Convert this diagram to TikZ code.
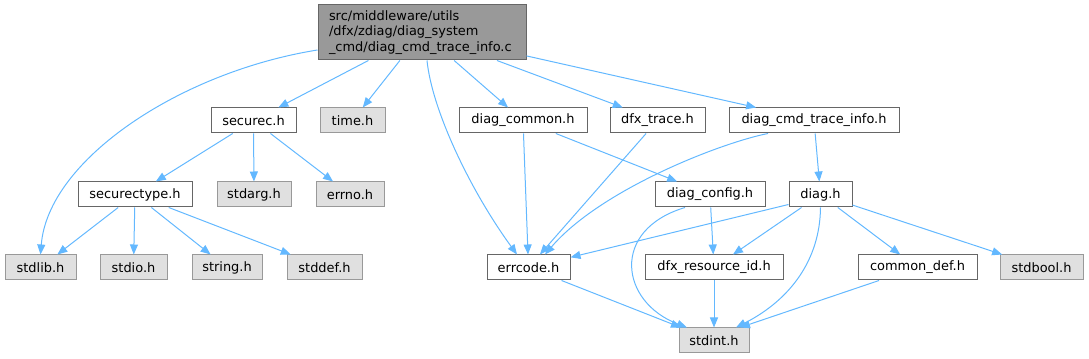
\documentclass[tikz,border=0pt]{standalone}
\usepackage{fontspec}
\setmainfont{DejaVu Sans}
\usetikzlibrary{arrows.meta,calc}
\definecolor{edgeblue}{HTML}{63B8FF}
\definecolor{boxborder}{HTML}{666666}
\definecolor{sysfill}{HTML}{E0E0E0}
\definecolor{sysborder}{HTML}{999999}
\definecolor{rootfill}{HTML}{999999}
\begin{document}
\begin{tikzpicture}[x=0.75pt,y=-0.75pt,
  every node/.style={font=\fontsize{9.7}{11.8}\selectfont, inner sep=0pt, minimum height=18.75pt, line width=0.75pt},
  filebox/.style={draw=boxborder, fill=white, minimum width=#1*0.75pt},
  sysbox/.style={draw=sysborder, fill=sysfill, minimum width=#1*0.75pt},
  dep/.style={draw=edgeblue, line width=0.75pt, -{Triangle[length=7.5pt,width=6pt]}},
]
\useasboundingbox (0,0) rectangle (1089,359);

% root
\node[draw=boxborder, fill=rootfill, minimum width=156pt, minimum height=41.25pt,
      text width=139.5pt, align=left] (root) at (422,32.5)
  {src/middleware/utils\\/dfx/zdiag/diag\_system\\\_cmd/diag\_cmd\_trace\_info.c};

% row 2
\node[filebox=85]  (securec)    at (253.5,120.5) {securec.h};
\node[sysbox=65]   (timeh)      at (352.5,120.5) {time.h};
\node[filebox=128] (diagcommon) at (523,120.5)   {diag\_common.h};
\node[filebox=95]  (dfxtrace)   at (657.5,120.5) {dfx\_trace.h};
\node[filebox=170] (cmdinfo)    at (814,120.5)   {diag\_cmd\_trace\_info.h};

% row 3
\node[filebox=114] (securectype) at (135,194.5)  {securectype.h};
\node[sysbox=74]   (stdarg)      at (254,194.5)  {stdarg.h};
\node[sysbox=68]   (errno)       at (350,194.5)  {errno.h};
\node[filebox=110] (diagconfig)  at (710,194.5)  {diag\_config.h};
\node[filebox=63]  (diag)        at (820.5,194.5){diag.h};

% row 4
\node[sysbox=71]   (stdlib)    at (40.5,267.5)  {stdlib.h};
\node[sysbox=67]   (stdio)     at (133.5,267.5) {stdio.h};
\node[sysbox=70]   (stringh)   at (227,267.5)   {string.h};
\node[sysbox=75]   (stddef)    at (324.5,267.5) {stddef.h};
\node[filebox=83]  (errcode)   at (528.5,267.5) {errcode.h};
\node[filebox=138] (dfxres)    at (714,267.5)   {dfx\_resource\_id.h};
\node[filebox=119] (commondef) at (917.5,267.5) {common\_def.h};
\node[sysbox=83]   (stdbool)   at (1041.5,267.5){stdbool.h};

% row 5
\node[sysbox=70]   (stdint)    at (714,340.5)   {stdint.h};

% edges from root
\draw[dep] (root) -- (securec);
\draw[dep] (root) -- (timeh);
\draw[dep] (root) -- (diagcommon);
\draw[dep] (root) -- (dfxtrace);
\draw[dep] (root) -- (cmdinfo);
\draw[dep] ($(root.west)+(0,17.5)$) .. controls (180,72) and (48,160) .. (stdlib.north);
\draw[dep] ($(root.south)+(5,0)$) .. controls (432,110) and (470,190) .. ($(errcode.north)+(-11.5,0)$);

% securec
\draw[dep] (securec) -- (securectype);
\draw[dep] (securec) -- (stdarg);
\draw[dep] (securec) -- (errno);

% securectype
\draw[dep] (securectype) -- (stdlib);
\draw[dep] (securectype) -- (stdio);
\draw[dep] (securectype) -- (stringh);
\draw[dep] (securectype) -- (stddef);

% diag_common, dfx_trace, diag_cmd_trace_info
\draw[dep] (diagcommon) -- (errcode);
\draw[dep] (diagcommon) -- (diagconfig);
\draw[dep] (dfxtrace) -- (errcode);
\draw[dep] ($(cmdinfo.south)+(-46,0)$) .. controls (720,143) and (600,190) .. ($(errcode.north)+(16.5,0)$);
\draw[dep] (cmdinfo) -- (diag);

% diag_config
\draw[dep] (diagconfig) -- (dfxres);
\draw[dep] ($(diagconfig.south)+(-25,0)$) .. controls (610,230) and (620,302) .. ($(stdint.north)+(-27,0)$);

% diag
\draw[dep] ($(diag.south west)+(0,-3)$) -- (errcode);
\draw[dep] (diag) -- (dfxres);
\draw[dep] (diag.south) .. controls (820,260) and (790,300) .. ($(stdint.north)+(22,0)$);
\draw[dep] (diag) -- (commondef);
\draw[dep] (diag) -- (stdbool);

% to stdint
\draw[dep] (errcode) -- (stdint);
\draw[dep] (dfxres) -- (stdint);
\draw[dep] (commondef) -- ($(stdint.north)+(26,0)$);
\end{tikzpicture}
\end{document}
